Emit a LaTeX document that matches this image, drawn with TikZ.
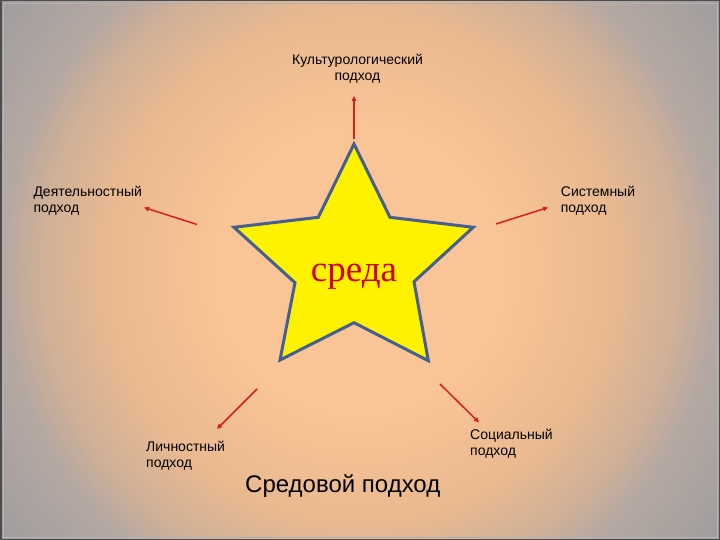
\documentclass[tikz,border=0pt]{standalone}
\usepackage{fontspec}
\setmainfont{Liberation Sans}
\newfontfamily\serifface{Liberation Serif}
\usetikzlibrary{arrows.meta}
\definecolor{peach}{RGB}{249,196,150}
\definecolor{warmA}{RGB}{233,185,144}
\definecolor{warmB}{RGB}{207,176,152}
\definecolor{edgegray}{RGB}{181,168,162}
\definecolor{cornergray}{RGB}{160,157,158}
\definecolor{starline}{RGB}{70,95,145}
\definecolor{arrowred}{RGB}{215,30,30}
\definecolor{wordred}{RGB}{210,0,0}
\tikzset{
  lbl/.style={font=\fontsize{14}{16}\selectfont, inner sep=0pt, align=left, anchor=north west},
  ray/.style={draw=arrowred, line width=1.5pt, -{Triangle[length=5pt,width=4.5pt]}},
  starshape/.style={draw=starline, fill=yellow, line width=3pt, line join=miter}
}
\begin{document}
\begin{tikzpicture}[x=1pt,y=-1pt]
\useasboundingbox (0,0) rectangle (720,540);
\begin{scope}
\clip (0,0) rectangle (720,540);
\fill[cornergray] (0,0) rectangle (720,540);
\foreach \ka/\kb/\ca/\cb in {358/450/edgegray/cornergray, 320/358/warmB/edgegray, 255/320/warmA/warmB, 150/255/peach/warmA} {
  \foreach \j in {30,29,...,1} {
    \pgfmathsetmacro{\kk}{\ka+(\kb-\ka)*\j/30}
    \pgfmathsetmacro{\pp}{\j*100/30}
    \fill[\cb!\pp!\ca] (360,270) circle [radius={\kk*1pt}];
  }
}
\fill[peach] (360,270) circle [radius=150pt];
\end{scope}
\draw[draw=gray!60!white, line width=0.8pt] (3,3) rectangle (717,537);
\draw[draw=black!70, line width=1.5pt] (0.75,0.75) rectangle (719.25,539.25);
% star
\coordinate (s1) at (354,144);
\coordinate (s2) at (390,217.3);
\coordinate (s3) at (473.3,227.3);
\coordinate (s4) at (414,281.7);
\coordinate (s5) at (428.3,360.7);
\coordinate (s6) at (354,322.7);
\coordinate (s7) at (280,360);
\coordinate (s8) at (295,282.7);
\coordinate (s9) at (234,227.3);
\coordinate (s10) at (318.3,217.3);
\draw[starshape] (s1) -- (s2) -- (s3) -- (s4) -- (s5) -- (s6) -- (s7) -- (s8) -- (s9) -- (s10) -- cycle;
\node[font=\serifface\fontsize{37}{40}\selectfont, text=wordred, anchor=base, inner sep=0pt] (sreda) at (354,281.7) {среда};
% labels
\node[lbl, anchor=north, align=center] (kult) at (357.5,54) {Культурологический\\подход};
\node[lbl] (deyat) at (33.3,185.5) {Деятельностный\\подход};
\node[lbl] (sist) at (560.7,185.5) {Системный\\подход};
\node[lbl] (lich) at (146,440.5) {Личностный\\подход};
\node[lbl] (soc) at (470,429) {Социальный\\подход};
\node[font=\fontsize{24}{28}\selectfont, anchor=base west, inner sep=0pt] (sred) at (245,492) {Средовой подход};
% arrows
\coordinate (t1) at (354,139);   \coordinate (h1) at (354,96);
\coordinate (t2) at (197,224.5); \coordinate (h2) at (144,207.5);
\coordinate (t3) at (496,224);   \coordinate (h3) at (548,207.5);
\coordinate (t4) at (257,389);   \coordinate (h4) at (217,429);
\coordinate (t5) at (440,384);   \coordinate (h5) at (479,422.5);
\draw[ray] (t1) -- (h1);
\draw[ray] (t2) -- (h2);
\draw[ray] (t3) -- (h3);
\draw[ray] (t4) -- (h4);
\draw[ray] (t5) -- (h5);
\end{tikzpicture}
\end{document}
